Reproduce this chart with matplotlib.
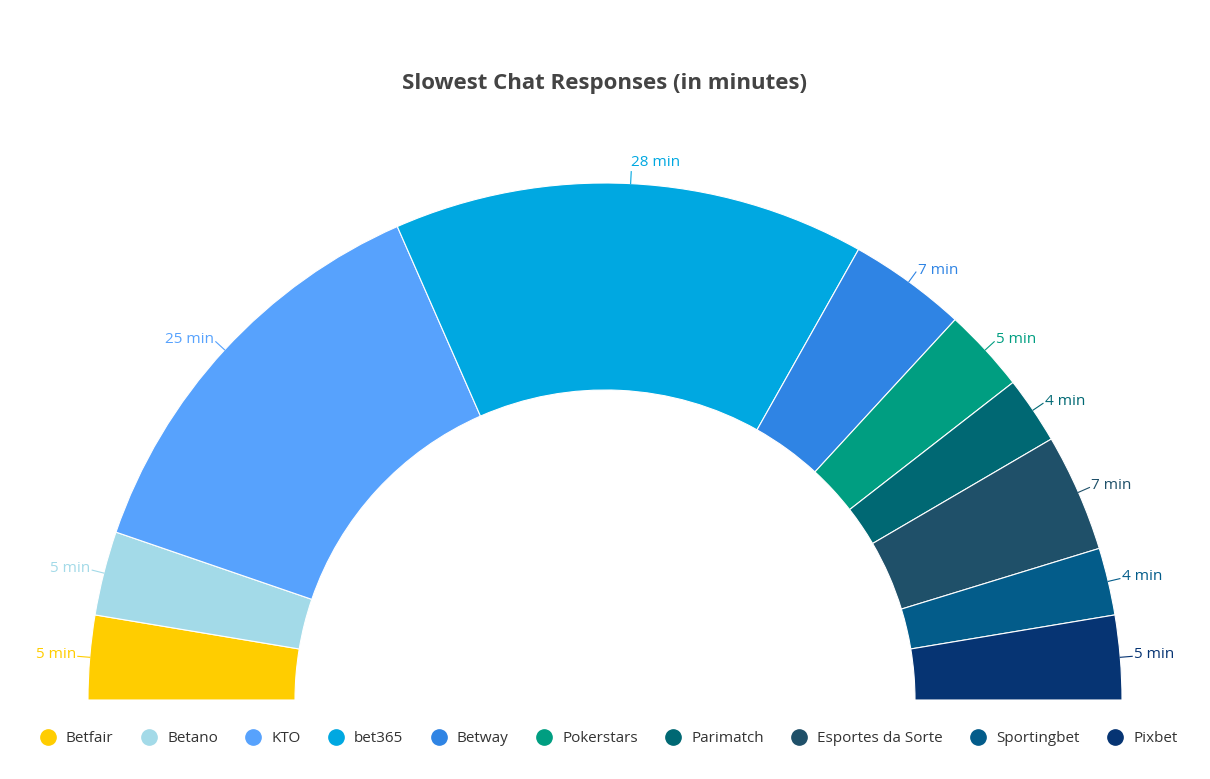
import matplotlib
matplotlib.use("Agg")
import matplotlib.pyplot as plt
from matplotlib.patches import Wedge
from matplotlib.lines import Line2D
import numpy as np

categories = ["Betfair", "Betano", "KTO", "bet365", "Betway", "Pokerstars",
              "Parimatch", "Esportes da Sorte", "Sportingbet", "Pixbet"]
values = [5, 5, 25, 28, 7, 5, 4, 7, 4, 5]
colors = ["#FFCD00", "#A3DAE8", "#57A2FD", "#00A8E1", "#2F84E4", "#009E81",
          "#006873", "#1F5069", "#035C8A", "#063473"]
labels = [f"{v} min" for v in values]

W, H = 1210, 779
fig = plt.figure(figsize=(W/100, H/100), dpi=100)
ax = fig.add_axes([0, 0, 1, 1])
ax.set_xlim(0, W); ax.set_ylim(0, H); ax.axis("off")

cx, cy = 605, H - 700
R, r = 517, 310
total = sum(values)
ang = 180.0
for v, c, lab in zip(values, colors, labels):
    span = v / total * 180
    a1, a0 = ang, ang - span
    ax.add_patch(Wedge((cx, cy), R, a0, a1, width=R - r, facecolor=c,
                       edgecolor="white", linewidth=0.8))
    mid = np.deg2rad((a0 + a1) / 2)
    x1, y1 = cx + R*np.cos(mid), cy + R*np.sin(mid)
    x2, y2 = cx + (R+12)*np.cos(mid), cy + (R+12)*np.sin(mid)
    ax.plot([x1, x2], [y1, y2], color=c, lw=0.8)
    if abs(np.cos(mid)) < 0.1:
        ax.text(x2, y2 + 2, lab, ha="left", va="bottom", color=c, fontsize=11, family="Open Sans")
    elif np.cos(mid) < 0:
        ax.text(x2 - 2, y2 + 2, lab, ha="right", va="center", color=c, fontsize=11, family="Open Sans")
    else:
        ax.text(x2 + 2, y2 + 2, lab, ha="left", va="center", color=c, fontsize=11, family="Open Sans")
    ang = a0

ax.text(W/2, H - 83, "Slowest Chat Responses (in minutes)", ha="center", va="center",
        fontsize=16, fontweight="bold", color="#444444", family="Open Sans")

handles = [Line2D([], [], marker="o", ls="", markersize=11, markerfacecolor=c,
                  markeredgecolor=c) for c in colors]
fig.legend(handles, categories, loc="center", bbox_to_anchor=(0.5, 1 - 739/H), ncol=10,
           frameon=False, handletextpad=0.2, columnspacing=1.3,
           prop={"family": "Open Sans", "size": 11}, labelcolor="#333333")
fig.savefig("out.png", dpi=100)
